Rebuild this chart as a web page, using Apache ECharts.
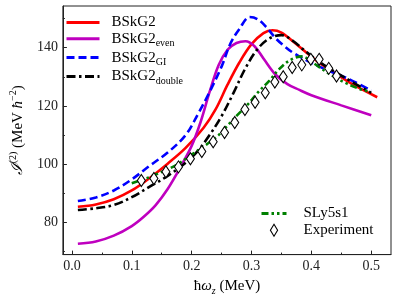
<!DOCTYPE html>
<html>
<head>
<meta charset="utf-8">
<script src="https://cdn.jsdelivr.net/npm/echarts@6/dist/echarts.min.js"></script>
<style>html,body{margin:0;padding:0;background:#fff}#c{width:398px;height:301px}</style>
</head>
<body>
<div id="c"></div>
<script>
// ---- data ----
const xTicks = [0, 0.1, 0.2, 0.3, 0.4, 0.5];
const xMinorTicks = [0.05, 0.15, 0.25, 0.35, 0.45];
const yTicks = [80, 100, 120, 140];
const yMinorTicks = [70, 90, 110, 130, 150];

const bskg2X = [0.01, 0.04, 0.07, 0.10, 0.13, 0.16, 0.19, 0.22, 0.24, 0.26, 0.28, 0.30, 0.32, 0.335, 0.35, 0.37, 0.39, 0.41, 0.44, 0.47, 0.51];
const bskg2Y = [85.4, 86.2, 88.0, 91.0, 95.3, 100.2, 105.6, 112.5, 118.8, 127.3, 135.0, 141.2, 145.0, 146.0, 145.2, 142.0, 138.6, 135.3, 131.2, 127.3, 123.0];

const evenX = [0.01, 0.04, 0.07, 0.10, 0.12, 0.14, 0.16, 0.18, 0.20, 0.215, 0.23, 0.245, 0.26, 0.275, 0.29, 0.305, 0.32, 0.34, 0.36, 0.38, 0.40, 0.45, 0.50];
const evenY = [72.7, 73.5, 75.5, 78.8, 82.0, 86.0, 91.5, 98.5, 106.3, 114.5, 124.8, 134.0, 139.3, 141.6, 142.2, 140.5, 136.3, 130.8, 127.5, 125.5, 123.7, 120.2, 116.8];

const giX = [0.01, 0.04, 0.07, 0.10, 0.13, 0.16, 0.19, 0.21, 0.23, 0.25, 0.265, 0.28, 0.297, 0.31, 0.325, 0.34, 0.355, 0.37, 0.40, 0.43, 0.46, 0.50];
const giY = [87.4, 88.6, 91.0, 94.8, 99.5, 104.0, 110.0, 117.0, 124.8, 133.5, 141.5, 146.5, 150.5, 149.8, 147.0, 143.3, 140.5, 138.2, 134.8, 132.0, 129.5, 125.3];

const doubleX = [0.01, 0.04, 0.07, 0.10, 0.13, 0.16, 0.19, 0.21, 0.23, 0.25, 0.27, 0.29, 0.31, 0.33, 0.35, 0.37, 0.39, 0.42, 0.455, 0.50];
const doubleY = [84.3, 84.9, 86.0, 88.7, 92.3, 96.0, 100.5, 104.5, 110.0, 116.5, 124.5, 133.0, 139.5, 143.2, 144.3, 142.2, 138.8, 134.2, 129.8, 124.5];

const slyX = [0.10, 0.13, 0.15, 0.175, 0.20, 0.225, 0.245, 0.26, 0.275, 0.295, 0.31, 0.33, 0.345, 0.365, 0.385, 0.40, 0.43, 0.455, 0.48, 0.495];
const slyY = [93.5, 95.6, 97.4, 99.8, 103.3, 106.8, 110.0, 113.3, 116.6, 120.8, 124.5, 128.7, 132.4, 135.8, 137.0, 135.2, 131.0, 128.1, 125.9, 125.0];

const expX = [0.116, 0.137, 0.157, 0.178, 0.198, 0.217, 0.236, 0.255, 0.272, 0.289, 0.306, 0.323, 0.339, 0.353, 0.368, 0.384, 0.399, 0.413, 0.429, 0.442];
const expY = [94.4, 95.1, 97.4, 99.1, 101.9, 104.4, 107.7, 110.9, 114.3, 118.8, 121.3, 124.5, 128.2, 130.0, 133.2, 134.1, 136.0, 136.0, 132.9, 130.3];

// ---- chart ----
const FF = "'Liberation Serif', 'DejaVu Serif', serif";
const pairs = (xs, ys) => xs.map((x, i) => [x, ys[i]]);

const richBase = {
  a: {fontSize: 15, lineHeight: 20, fontFamily: FF, color: '#000', padding: [0, 0, 0, 7]},
  s: {fontSize: 10, lineHeight: 11, verticalAlign: 'bottom', fontFamily: FF, color: '#000'},
  a2: {fontSize: 15, lineHeight: 20, fontFamily: FF, color: '#000', padding: [0, 0, 0, 12]}
};
const legendLabel = {
  'BSkG2': '{a|BSkG2}',
  'BSkG2_even': '{a|BSkG2}{s|even}',
  'BSkG2_GI': '{a|BSkG2}{s|GI}',
  'BSkG2_double': '{a|BSkG2}{s|double}',
  'SLy5s1': '{a2|SLy5s1}',
  'Experiment': '{a2|Experiment}'
};

const chart = echarts.init(document.getElementById('c'), null, {renderer: 'canvas'});
const lineCommon = {type: 'line', symbol: 'none', smooth: 0.35, clip: true, xAxisIndex: 0, yAxisIndex: 0};

chart.setOption({
  animation: false,
  backgroundColor: '#fff',
  grid: {left: 53, right: 7, top: 6, bottom: 43, show: true, borderColor: '#222', borderWidth: 1, backgroundColor: 'transparent'},
  xAxis: [{
    type: 'value', min: -0.015, max: 0.533,
    name: '{t|ħ}{it|ω}{sub|z}{t| (MeV)}', nameLocation: 'middle', nameGap: 19,
    nameTextStyle: {rich: {
      t: {fontSize: 15, lineHeight: 20, fontFamily: FF, color: '#000'},
      it: {fontSize: 15, lineHeight: 20, fontFamily: FF, fontStyle: 'italic', color: '#000'},
      sub: {fontSize: 10, lineHeight: 11, verticalAlign: 'bottom', fontFamily: FF, fontStyle: 'italic', color: '#000'}
    }},
    axisLine: {show: true, onZero: false, lineStyle: {color: '#222', width: 1}},
    axisTick: {show: true, inside: true, length: 4, customValues: xTicks, lineStyle: {color: '#222'}},
    axisLabel: {customValues: xTicks, formatter: v => v.toFixed(1), fontFamily: FF, fontSize: 14, color: '#222', margin: 5},
    splitLine: {show: false}
  }, {
    type: 'value', min: -0.015, max: 0.533, position: 'bottom',
    axisLine: {show: false, onZero: false},
    axisTick: {show: true, inside: true, length: 2, customValues: xMinorTicks, lineStyle: {color: '#222'}},
    axisLabel: {show: false},
    splitLine: {show: false}
  }],
  yAxis: [{
    type: 'value', min: 69, max: 154.3,
    name: '{i|ℐ}{sup|(2)}{t| (MeV }{it|ħ}{sup|−2}{t|)}', nameLocation: 'middle', nameGap: 31,
    nameTextStyle: {rich: {
      i: {fontSize: 16, lineHeight: 20, fontFamily: "'DejaVu Serif', serif", fontStyle: 'italic', color: '#000'},
      t: {fontSize: 15, lineHeight: 20, fontFamily: FF, color: '#000'},
      it: {fontSize: 15, lineHeight: 20, fontFamily: FF, fontStyle: 'italic', color: '#000'},
      sup: {fontSize: 10, lineHeight: 11, verticalAlign: 'top', fontFamily: FF, color: '#000'}
    }},
    axisLine: {show: true, onZero: false, lineStyle: {color: '#222', width: 1}},
    axisTick: {show: true, inside: true, length: 4, customValues: yTicks, lineStyle: {color: '#222'}},
    axisLabel: {customValues: yTicks, fontFamily: FF, fontSize: 14, color: '#222', margin: 5},
    splitLine: {show: false}
  }, {
    type: 'value', min: 69, max: 154.3, position: 'left',
    axisLine: {show: false, onZero: false},
    axisTick: {show: true, inside: true, length: 2, customValues: yMinorTicks, lineStyle: {color: '#222'}},
    axisLabel: {show: false},
    splitLine: {show: false}
  }],
  legend: [{
    left: 65, top: 15, orient: 'vertical', padding: 0, itemGap: 1.3,
    itemWidth: 33, itemHeight: 12,
    itemStyle: {opacity: 0},
    lineStyle: {width: 3},
    data: ['BSkG2', 'BSkG2_even', 'BSkG2_GI', 'BSkG2_double'],
    formatter: n => legendLabel[n],
    textStyle: {rich: richBase}
  }, {
    left: 260, top: 206, orient: 'vertical', padding: 0, itemGap: 1.7,
    itemWidth: 25, itemHeight: 12,
    data: [
      {name: 'SLy5s1', itemStyle: {opacity: 0}, lineStyle: {width: 3}},
      {name: 'Experiment', itemStyle: {color: '#fff', borderColor: '#000', borderWidth: 1.1}}
    ],
    formatter: n => legendLabel[n],
    textStyle: {rich: richBase}
  }],
  series: [
    Object.assign({}, lineCommon, {name: 'BSkG2', data: pairs(bskg2X, bskg2Y), z: 2,
      lineStyle: {color: '#ff0000', width: 2.6}, itemStyle: {color: '#ff0000'}}),
    Object.assign({}, lineCommon, {name: 'BSkG2_even', data: pairs(evenX, evenY), z: 3,
      lineStyle: {color: '#bf00bf', width: 2.6}, itemStyle: {color: '#bf00bf'}}),
    Object.assign({}, lineCommon, {name: 'BSkG2_GI', data: pairs(giX, giY), z: 4,
      lineStyle: {color: '#0000ff', width: 2.6, type: [8, 4]}, itemStyle: {color: '#0000ff'}}),
    Object.assign({}, lineCommon, {name: 'BSkG2_double', data: pairs(doubleX, doubleY), z: 5,
      lineStyle: {color: '#000000', width: 2.6, type: [9, 3.5, 2.5, 3.5]}, itemStyle: {color: '#000'}}),
    Object.assign({}, lineCommon, {name: 'SLy5s1', data: pairs(slyX, slyY), z: 6,
      lineStyle: {color: '#008000', width: 2.6, type: [7, 3, 2.5, 3, 2.5, 3]}, itemStyle: {color: '#008000'}}),
    {
      type: 'scatter', name: 'Experiment', data: pairs(expX, expY), z: 7,
      symbol: 'path://M0,0L6,10L0,20L-6,10Z', symbolSize: [8, 12],
      itemStyle: {color: '#fff', borderColor: '#000', borderWidth: 1.1, opacity: 1}
    }
  ]
});
</script>
</body>
</html>
